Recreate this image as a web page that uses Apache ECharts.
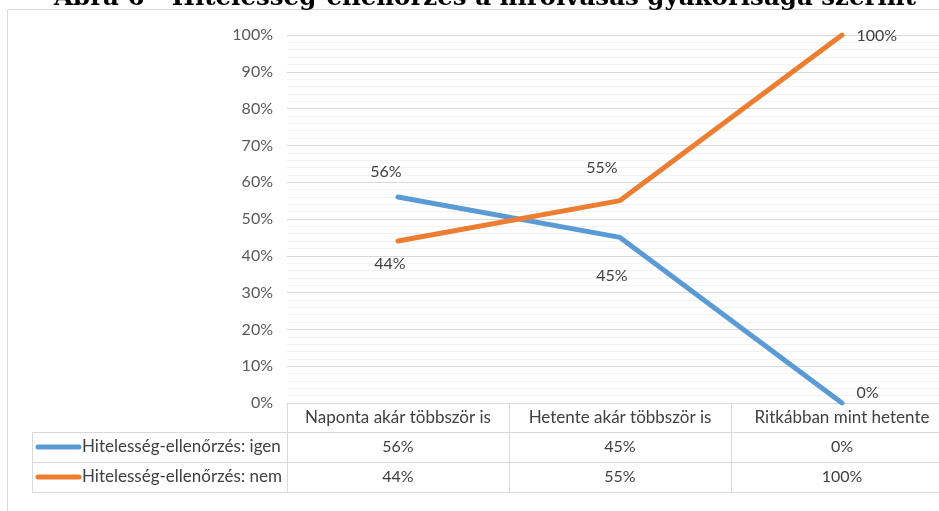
<!DOCTYPE html>
<html>
<head>
<meta charset="utf-8">
<script src="https://cdn.jsdelivr.net/npm/echarts@6/dist/echarts.min.js"></script>
<style>
  html, body { margin: 0; padding: 0; background: #fff; overflow: hidden; }
  #chart { width: 960px; height: 511px; }
</style>
</head>
<body>
<div id="chart"></div>
<script>
// adatok
var categories = ['Naponta akár többször is', 'Hetente akár többször is', 'Ritkábban mint hetente'];
var seriesNames = ['Hitelesség-ellenőrzés: igen', 'Hitelesség-ellenőrzés: nem'];
var igenValues = [56, 45, 0];
var nemValues = [44, 55, 100];
var yTicks = [0, 10, 20, 30, 40, 50, 60, 70, 80, 90, 100];
var titleText = 'Ábra 6 - Hitelesség-ellenőrzés a hírolvasás gyakorisága szerint';

var colors = ['#5B9BD5', '#ED7D31'];
var font = 'Lato, "Noto Sans", sans-serif';
var textColor = '#404040';

// címkék elhelyezése pontonként (Excel-szerű)
var igenLabelPos = [
    { position: 'top', distance: 17, offset: [-12, 0] },
    { position: 'bottom', distance: 30, offset: [-8, 0] },
    { position: 'right', distance: 14, offset: [0, -10] }
];
var nemLabelPos = [
    { position: 'bottom', distance: 14, offset: [-8, 0] },
    { position: 'top', distance: 24, offset: [-18, 0] },
    { position: 'right', distance: 14, offset: [0, 1] }
];

function withLabels(values, pos) {
    return values.map(function (v, i) {
        return { value: v, label: pos[i] };
    });
}

var chart = echarts.init(document.getElementById('chart'));

var labelStyle = { show: true, formatter: '{c}%', fontSize: 16, color: textColor, fontFamily: font };

var option = {
    animation: false,
    grid: { left: 287, top: 35, right: 7, height: 368 },
    xAxis: {
        type: 'category',
        data: categories,
        boundaryGap: true,
        axisLine: { lineStyle: { color: '#d9d9d9', width: 1 } },
        axisTick: { show: false },
        axisLabel: { interval: 0, margin: 6, fontSize: 17, color: textColor, fontFamily: font }
    },
    yAxis: {
        type: 'value',
        min: 0,
        max: 100,
        interval: 10,
        axisLine: { show: false },
        axisTick: { show: false },
        axisLabel: { formatter: '{value}%', fontSize: 16, color: '#595959', fontFamily: font, margin: 14 },
        splitLine: { lineStyle: { color: '#d9d9d9' } },
        minorTick: { show: false, splitNumber: 5 },
        minorSplitLine: { show: true, lineStyle: { color: '#f2f2f2' } }
    },
    series: [
        {
            name: seriesNames[0],
            type: 'line',
            data: withLabels(igenValues, igenLabelPos),
            symbol: 'circle',
            symbolSize: 1,
            lineStyle: { color: colors[0], width: 5, cap: 'round' },
            itemStyle: { color: colors[0] },
            label: labelStyle
        },
        {
            name: seriesNames[1],
            type: 'line',
            data: withLabels(nemValues, nemLabelPos),
            symbol: 'circle',
            symbolSize: 1,
            lineStyle: { color: colors[1], width: 5, cap: 'round' },
            itemStyle: { color: colors[1] },
            label: labelStyle
        }
    ]
};
chart.setOption(option);

// adattábla, keret, cím
var xs = categories.map(function (c) { return chart.convertToPixel({ xAxisIndex: 0 }, c); });
var band = xs[1] - xs[0];
var lineColor = '#d9d9d9';
var rowsY = [447, 477];
var allValues = [igenValues, nemValues];
var g = [];

g.push({ type: 'rect', shape: { x: 7.5, y: 9.5, width: 1000, height: 600 }, style: { fill: 'none', stroke: lineColor, lineWidth: 1 }, z: 0 });
[432.5, 462.5, 492.5].forEach(function (y) {
    g.push({ type: 'line', shape: { x1: 32, y1: y, x2: 960, y2: y }, style: { stroke: lineColor, lineWidth: 1 } });
});
xs.forEach(function (x) {
    var bx = Math.round(x - band / 2) + 0.5;
    g.push({ type: 'line', shape: { x1: bx, y1: 403, x2: bx, y2: 492 }, style: { stroke: lineColor, lineWidth: 1 } });
});
g.push({ type: 'line', shape: { x1: 32.5, y1: 432, x2: 32.5, y2: 492 }, style: { stroke: lineColor, lineWidth: 1 } });

seriesNames.forEach(function (name, r) {
    var y = rowsY[r];
    g.push({ type: 'line', shape: { x1: 38, y1: y, x2: 79, y2: y }, style: { stroke: colors[r], lineWidth: 5, lineCap: 'round' } });
    g.push({ type: 'text', x: 82, y: y, style: { text: name, font: '17px ' + font, fill: textColor, textAlign: 'left', textVerticalAlign: 'middle' } });
    allValues[r].forEach(function (v, i) {
        g.push({ type: 'text', x: xs[i], y: y, style: { text: v + '%', font: '16px ' + font, fill: textColor, textAlign: 'center', textVerticalAlign: 'middle' } });
    });
});

g.push({ type: 'text', x: 485, y: 11, style: { text: titleText, font: 'bold 24.5px "DejaVu Serif", serif', fill: '#000', textAlign: 'center', textVerticalAlign: 'bottom' } });

chart.setOption({ graphic: g });
</script>
</body>
</html>
